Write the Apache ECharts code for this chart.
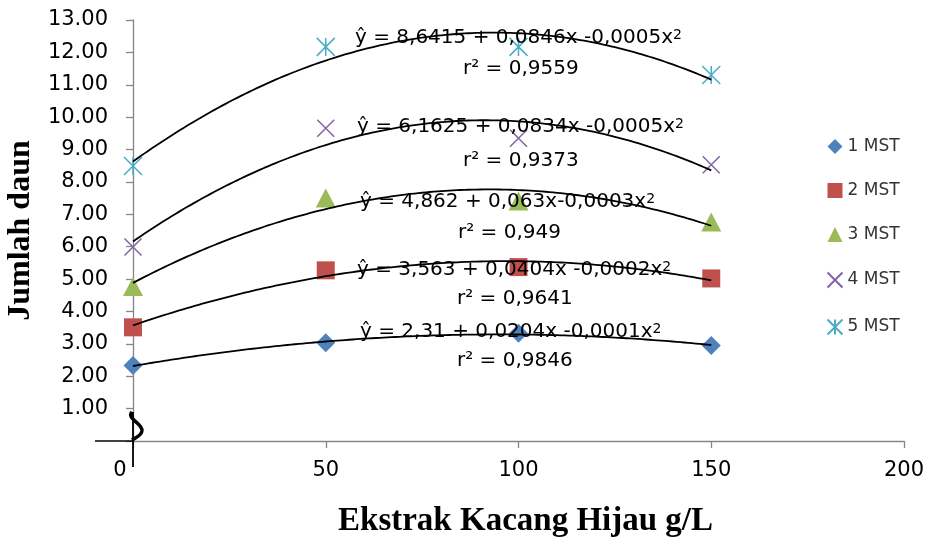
<!DOCTYPE html>
<html><head><meta charset="utf-8">
<script src="https://cdn.jsdelivr.net/npm/echarts@6/dist/echarts.min.js"></script>
<style>html,body{margin:0;padding:0;background:#fff}#c{width:925px;height:537px}</style>
</head><body><div id="c"></div>
<script>
// ---- data ----
const xValues = [0, 50, 100, 150];
const seriesNames = ['1 MST', '2 MST', '3 MST', '4 MST', '5 MST'];
const mst1 = [2.33, 3.03, 3.33, 2.95];
const mst2 = [3.51, 5.27, 5.37, 5.02];
const mst3 = [4.77, 7.50, 7.41, 6.76];
const mst4 = [5.99, 9.66, 9.35, 8.53];
const mst5 = [8.49, 12.17, 12.17, 11.30];
const xTicks = [0, 50, 100, 150, 200];
const yTicks = [0, 1, 2, 3, 4, 5, 6, 7, 8, 9, 10, 11, 12, 13];
const equations = [
  'ŷ = 2,31 + 0,0204x -0,0001x',
  'ŷ = 3,563 + 0,0404x -0,0002x',
  'ŷ = 4,862 + 0,063x-0,0003x',
  'ŷ = 6,1625 + 0,0834x -0,0005x',
  'ŷ = 8,6415 + 0,0846x -0,0005x'
];
const rSquared = ['r² = 0,9846', 'r² = 0,9641', 'r² = 0,949', 'r² = 0,9373', 'r² = 0,9559'];

// ---- styles / layout ----
const allY = [mst1, mst2, mst3, mst4, mst5];
const colors = ['#4F81BD', '#C0504D', '#9BBB59', '#8064A2', '#4BACC6'];
const symbols = [
  'diamond', 'rect', 'triangle',
  'path://M0,0L10,10M10,0L0,10',
  'path://M0,0L10,10M10,0L0,10M5,0L5,10'
];
const symbolSizes = [19, 18, [20, 19], 17, 18];
const eqPos = [[360, 332], [357, 270], [360, 202], [357, 127], [355, 38]];
const r2Pos = [[457, 361], [457, 299], [458, 233], [463, 161], [463, 69]];

// quadratic least-squares trendline (same as spreadsheet polynomial trendline)
function fitQuad(xs, ys) {
  let S = [0,0,0,0,0], T = [0,0,0];
  for (let i = 0; i < xs.length; i++) {
    let p = 1;
    for (let k = 0; k < 5; k++) { S[k] += p; if (k < 3) T[k] += p * ys[i]; p *= xs[i]; }
  }
  const A = [[S[0],S[1],S[2],T[0]],[S[1],S[2],S[3],T[1]],[S[2],S[3],S[4],T[2]]];
  for (let c = 0; c < 3; c++) {
    for (let r = c + 1; r < 3; r++) {
      const f = A[r][c] / A[c][c];
      for (let k = c; k < 4; k++) A[r][k] -= f * A[c][k];
    }
  }
  const b = [0,0,0];
  for (let r = 2; r >= 0; r--) {
    let s = A[r][3];
    for (let k = r + 1; k < 3; k++) s -= A[r][k] * b[k];
    b[r] = s / A[r][r];
  }
  return b;
}
function trendData(ys) {
  const b = fitQuad(xValues, ys);
  const out = [];
  const x0 = xValues[0], x1 = xValues[xValues.length - 1];
  for (let x = x0; x <= x1; x += 1) out.push([x, b[0] + b[1] * x + b[2] * x * x]);
  return out;
}

const series = [];
allY.forEach((ys, i) => {
  const isLine = i >= 3;
  series.push({
    name: seriesNames[i], type: 'scatter', z: 2,
    symbol: symbols[i], symbolSize: symbolSizes[i],
    itemStyle: isLine ? { color: 'none', borderColor: colors[i], borderWidth: 1.5, opacity: 1 } : { color: colors[i], opacity: 1 },
    data: xValues.map((x, j) => [x, ys[j]])
  });
});
allY.forEach((ys, i) => {
  series.push({
    name: seriesNames[i] + ' trend', type: 'line', z: 5, silent: true,
    symbol: 'none', smooth: false,
    lineStyle: { color: '#000', width: 1.8 },
    data: trendData(ys)
  });
});

const chart = echarts.init(document.getElementById('c'), null, { renderer: 'canvas' });
const axisGray = '#868686';
chart.setOption({
  animation: false,
  backgroundColor: '#fff',
  grid: { left: 133, right: 21, top: 20, bottom: 96, containLabel: false, outerBoundsMode: 'none' },
  legend: {
    data: seriesNames, orient: 'vertical', left: 820, top: 133,
    itemWidth: 15, itemHeight: 15, itemGap: 27,
    textStyle: { fontFamily: 'DejaVu Sans', fontSize: 17, color: '#333', lineHeight: 16 }
  },
  xAxis: {
    type: 'value', min: xTicks[0], max: xTicks[xTicks.length - 1], interval: xTicks[1] - xTicks[0],
    name: 'Ekstrak Kacang Hijau g/L', nameLocation: 'middle', nameGap: 64,
    nameTextStyle: { fontFamily: 'Liberation Serif', fontWeight: 'bold', fontSize: 33, color: '#000', padding: [0, 0, 0, 14] },
    axisLine: { lineStyle: { color: axisGray, width: 1.3 } },
    axisTick: { show: true, inside: false, length: 7, lineStyle: { color: axisGray, width: 1.3 } },
    axisLabel: {
      margin: 19, fontFamily: 'DejaVu Sans', fontSize: 21, color: '#000',
      formatter: v => v === 0 ? '{z|0}' : String(v),
      rich: { z: { fontFamily: 'DejaVu Sans', fontSize: 21, color: '#000', padding: [0, 26, 0, 0] } }
    },
    splitLine: { show: false }
  },
  yAxis: {
    type: 'value', min: yTicks[0], max: yTicks[yTicks.length - 1], interval: yTicks[1] - yTicks[0],
    name: 'Jumlah daun', nameLocation: 'middle', nameGap: 92,
    nameTextStyle: { fontFamily: 'Liberation Serif', fontWeight: 'bold', fontSize: 32, color: '#000' },
    axisLine: { show: true, lineStyle: { color: axisGray, width: 1.3 } },
    axisTick: { show: true, inside: false, length: 7, lineStyle: { color: axisGray, width: 1.3 } },
    axisLabel: {
      margin: 25, fontFamily: 'DejaVu Sans', fontSize: 21, color: '#000',
      formatter: v => v === 0 ? '' : v.toFixed(2)
    },
    splitLine: { show: false }
  },
  series: series
});

// equation text boxes and hand-drawn axis break
const g = [];
equations.forEach((t, i) => {
  g.push({ type: 'text', x: eqPos[i][0], y: eqPos[i][1], z: 10,
    style: { text: t + '{sup|2}', fontFamily: 'DejaVu Sans', fontSize: 20, fill: '#000',
      align: 'left', verticalAlign: 'middle',
      rich: { sup: { fontFamily: 'DejaVu Sans', fontSize: 14, fill: '#000', verticalAlign: 'top' } } } });
  g.push({ type: 'text', x: r2Pos[i][0], y: r2Pos[i][1], z: 10,
    style: { text: rSquared[i], fontFamily: 'DejaVu Sans', fontSize: 20, fill: '#000',
      align: 'left', verticalAlign: 'middle' } });
});
const o = chart.convertToPixel({ gridIndex: 0 }, [0, 0]);
const ox = o[0], oy = o[1];
g.push({ type: 'line', z: 20, shape: { x1: ox - 38, y1: oy, x2: ox, y2: oy }, style: { stroke: '#000', lineWidth: 1.5 } });
g.push({ type: 'line', z: 20, shape: { x1: ox, y1: oy - 29, x2: ox, y2: oy + 26 }, style: { stroke: '#000', lineWidth: 1.8 } });
g.push({ type: 'bezierCurve', z: 21,
  shape: { x1: ox - 1, y1: oy - 29, cpx1: ox - 7, cpy1: oy - 22, cpx2: ox + 10, cpy2: oy - 18, x2: ox + 9, y2: oy - 10 },
  style: { stroke: '#000', lineWidth: 3.5, fill: null } });
g.push({ type: 'bezierCurve', z: 21,
  shape: { x1: ox + 9, y1: oy - 10, cpx1: ox + 8, cpy1: oy - 5, cpx2: ox + 2, cpy2: oy - 3, x2: ox - 1, y2: oy - 1 },
  style: { stroke: '#000', lineWidth: 3.5, fill: null } });
chart.setOption({ graphic: g });
</script>
</body></html>
